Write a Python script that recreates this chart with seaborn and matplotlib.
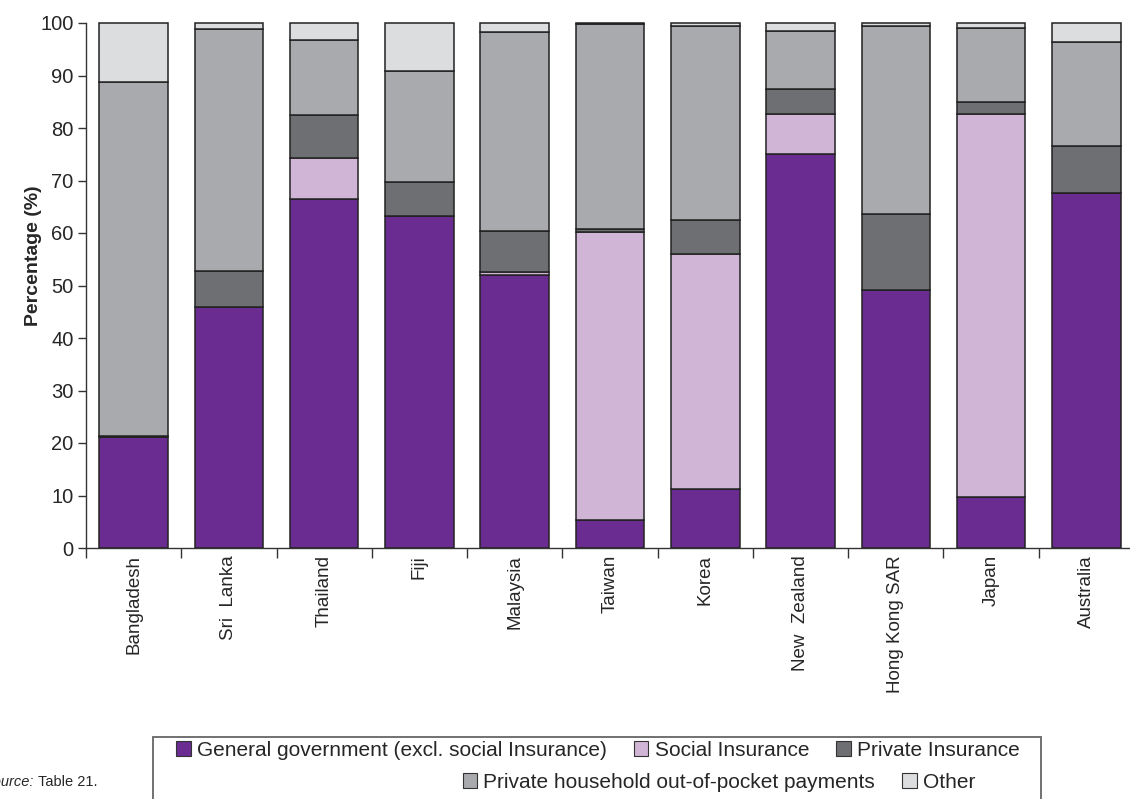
import numpy as np
import matplotlib
matplotlib.use("Agg")
import matplotlib.pyplot as plt
from matplotlib.patches import Patch, Rectangle
from matplotlib.ticker import FixedLocator
import seaborn as sns

# DATA (percent of total health expenditure)
countries = ["Bangladesh", "Sri  Lanka", "Thailand", "Fiji", "Malaysia", "Taiwan",
             "Korea", "New  Zealand", "Hong Kong SAR", "Japan", "Australia"]
gov = [21.1, 45.9, 66.5, 63.2, 52.0, 5.3, 11.2, 75.0, 49.1, 9.7, 67.6]
social = [0.0, 0.0, 7.8, 0.0, 0.6, 54.9, 44.8, 7.7, 0.0, 73.0, 0.0]
private_ins = [0.3, 6.9, 8.2, 6.5, 7.8, 0.6, 6.5, 4.7, 14.5, 2.3, 9.0]
out_of_pocket = [67.4, 46.1, 14.3, 21.2, 37.9, 39.0, 36.9, 11.1, 35.8, 14.0, 19.8]
other = [11.2, 1.1, 3.2, 9.1, 1.7, 0.2, 0.6, 1.5, 0.6, 1.0, 3.6]

series_names = ["General government (excl. social Insurance)", "Social Insurance",
                "Private Insurance", "Private household out-of-pocket payments", "Other"]
series_colors = ["#6a2c91", "#d1b5d7", "#6e6f73", "#a9aaad", "#dcdddf"]

W, H = 1130, 799

sns.set_style("white")
plt.rcParams["font.family"] = ["Liberation Sans", "DejaVu Sans"]

fig = plt.figure(figsize=(W / 100, H / 100), dpi=100)
ax = fig.add_axes([86 / W, 1 - 548 / H, (1134 - 86) / W, (548 - 23) / H])

# stacked bars, one seaborn call per series
bottom = np.zeros(len(countries))
for values, color in zip([gov, social, private_ins, out_of_pocket, other], series_colors):
    sns.barplot(x=countries, y=values, bottom=bottom, color=color, saturation=1,
                width=0.72, errorbar=None, edgecolor="#222222", linewidth=1.1, ax=ax)
    bottom = bottom + np.array(values)

for p in ax.patches:
    p.set_clip_on(False)

ax.set_xlim(-0.5, len(countries) - 0.5)
ax.set_ylim(0, 100)
ax.set_yticks(range(0, 101, 10))
ax.spines[["top", "right"]].set_visible(False)
for side in ["left", "bottom"]:
    ax.spines[side].set_color("#333333")
    ax.spines[side].set_linewidth(1.0)

ax.tick_params(axis="y", left=True, direction="out", length=6, width=1,
               color="#333333", labelsize=14.5, pad=3)
ax.tick_params(axis="x", which="major", length=0, labelsize=13.5, pad=5, labelrotation=90)
ax.xaxis.set_minor_locator(FixedLocator(np.arange(-0.5, len(countries), 1)))
ax.tick_params(axis="x", which="minor", bottom=True, direction="out", length=7,
               width=1, color="#333333")

ax.set_ylabel("Percentage (%)", fontsize=14, fontweight="bold")
ax.yaxis.set_label_coords(-0.042, 0.556)

# legend: two rows inside one box
handles = [Patch(facecolor=c, edgecolor="#333333", linewidth=0.8) for c in series_colors]
leg_kw = dict(loc="center", frameon=False, fontsize=15, handlelength=0.7, handleheight=0.7,
              handletextpad=0.3, columnspacing=1.3, borderpad=0, borderaxespad=0)
fig.legend(handles[:3], series_names[:3], ncol=3,
           bbox_to_anchor=(598 / W, 1 - 750 / H), **leg_kw)
fig.legend(handles[3:], series_names[3:], ncol=2,
           bbox_to_anchor=(719 / W, 1 - 782 / H), **leg_kw)
fig.add_artist(Rectangle((153 / W, 1 - 830 / H), (1041 - 153) / W, (830 - 737) / H,
                         transform=fig.transFigure, fill=False,
                         edgecolor="#666666", linewidth=1.3))

# source note, cut off at the left edge as in the original
fig.text(34 / W, 1 - 782 / H, "Source:", ha="right", va="center", fontsize=10.5, style="italic")
fig.text(38 / W, 1 - 782 / H, "Table 21.", ha="left", va="center", fontsize=10.5)

fig.savefig("out.png", dpi=100)
